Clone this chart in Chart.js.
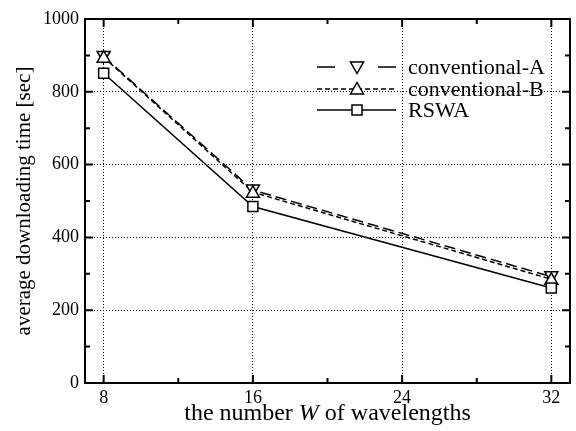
<!DOCTYPE html>
<html>
<head>
<meta charset="utf-8">
<script src="https://cdn.jsdelivr.net/npm/chart.js@4/dist/chart.umd.min.js"></script>
<style>
  html, body { margin: 0; padding: 0; background: #fff; }
  #wrap { width: 576px; height: 431px; }
</style>
</head>
<body>
<div id="wrap"><canvas id="grafico"></canvas></div>
<script>
const wavelengths = [8, 16, 32];
const convA = [897, 530, 292];
const convB = [895, 524, 285];
const rswa = [851, 485, 261];
const xTicks = [8, 16, 24, 32];
const xMinor = [12, 20, 28];
const yTicks = [0, 200, 400, 600, 800, 1000];
const yMinor = [100, 300, 500, 700, 900];
const seriesNames = ["conventional-A", "conventional-B", "RSWA"];

const SERIF = "'Liberation Serif', 'Times New Roman', serif";

function pts(vals) {
  return wavelengths.map((w, i) => ({ x: w, y: vals[i] }));
}

function drawMarker(ctx, style, x, y) {
  ctx.save();
  ctx.setLineDash([]);
  ctx.lineWidth = 1.5;
  ctx.strokeStyle = "#000";
  ctx.fillStyle = "#fff";
  ctx.beginPath();
  if (style === "down") {
    ctx.moveTo(x - 6.5, y - 5);
    ctx.lineTo(x + 6.5, y - 5);
    ctx.lineTo(x, y + 6.5);
    ctx.closePath();
  } else if (style === "up") {
    ctx.moveTo(x - 6.5, y + 5);
    ctx.lineTo(x + 6.5, y + 5);
    ctx.lineTo(x, y - 6.5);
    ctx.closePath();
  } else {
    ctx.rect(x - 5, y - 5, 10, 10);
  }
  ctx.fill();
  ctx.stroke();
  ctx.restore();
}

const framePlugin = {
  id: "frame",
  afterDraw(chart) {
    const ctx = chart.ctx;
    const a = chart.chartArea;
    const xs = chart.scales.x, ys = chart.scales.y;
    ctx.save();
    ctx.strokeStyle = "#000";
    ctx.lineWidth = 2;
    ctx.strokeRect(a.left, a.top, a.right - a.left, a.bottom - a.top);
    ctx.beginPath();
    xTicks.forEach(v => {
      const px = xs.getPixelForValue(v);
      ctx.moveTo(px, a.bottom); ctx.lineTo(px, a.bottom - 8);
      ctx.moveTo(px, a.top); ctx.lineTo(px, a.top + 8);
    });
    xMinor.forEach(v => {
      const px = xs.getPixelForValue(v);
      ctx.moveTo(px, a.bottom); ctx.lineTo(px, a.bottom - 5);
      ctx.moveTo(px, a.top); ctx.lineTo(px, a.top + 5);
    });
    yTicks.forEach(v => {
      const py = ys.getPixelForValue(v);
      ctx.moveTo(a.left, py); ctx.lineTo(a.left + 8, py);
      ctx.moveTo(a.right, py); ctx.lineTo(a.right - 8, py);
    });
    yMinor.forEach(v => {
      const py = ys.getPixelForValue(v);
      ctx.moveTo(a.left, py); ctx.lineTo(a.left + 5, py);
      ctx.moveTo(a.right, py); ctx.lineTo(a.right - 5, py);
    });
    ctx.stroke();

    // x title with italic W
    const cx = (a.left + a.right) / 2;
    const ty = 414;
    const p1 = "the number ", p2 = "W", p3 = " of wavelengths";
    ctx.fillStyle = "#000";
    ctx.textBaseline = "middle";
    ctx.font = "24px " + SERIF;
    const w1 = ctx.measureText(p1).width, w3 = ctx.measureText(p3).width;
    ctx.font = "italic 24px " + SERIF;
    const w2 = ctx.measureText(p2).width;
    const x0 = cx - (w1 + w2 + w3) / 2;
    ctx.textAlign = "left";
    ctx.font = "24px " + SERIF;
    ctx.fillText(p1, x0, ty);
    ctx.font = "italic 24px " + SERIF;
    ctx.fillText(p2, x0 + w1, ty);
    ctx.font = "24px " + SERIF;
    ctx.fillText(p3, x0 + w1 + w2, ty);

    // legend
    const rows = [
      { y: 67, dash: [18, 43], style: "down" },
      { y: 89, dash: [5, 3], style: "up" },
      { y: 110, dash: [], style: "rect" }
    ];
    ctx.font = "22px " + SERIF;
    rows.forEach((r, i) => {
      ctx.save();
      ctx.lineWidth = 1.5;
      ctx.setLineDash(r.dash);
      ctx.beginPath();
      ctx.moveTo(317, r.y); ctx.lineTo(396, r.y);
      ctx.stroke();
      ctx.restore();
      drawMarker(ctx, r.style, 357, r.y);
      ctx.fillStyle = "#000";
      ctx.textAlign = "left";
      ctx.fillText(seriesNames[i], 408, r.y + 1);
    });
    ctx.restore();
  }
};

const markerPlugin = {
  id: "markers",
  afterDatasetsDraw(chart) {
    const styles = ["down", "up", "rect"];
    chart.data.datasets.forEach((ds, i) => {
      chart.getDatasetMeta(i).data.forEach(pt => drawMarker(chart.ctx, styles[i], pt.x, pt.y));
    });
  }
};

const ctx = document.getElementById("grafico").getContext("2d");
new Chart(ctx, {
  type: "line",
  data: {
    datasets: [
      { label: seriesNames[0], data: pts(convA), borderColor: "#000", borderWidth: 1.5, borderDash: [11, 5], pointRadius: 0 },
      { label: seriesNames[1], data: pts(convB), borderColor: "#000", borderWidth: 1.5, borderDash: [5, 3], pointRadius: 0 },
      { label: seriesNames[2], data: pts(rswa), borderColor: "#000", borderWidth: 1.5, pointRadius: 0 }
    ]
  },
  options: {
    responsive: true,
    maintainAspectRatio: false,
    animation: false,
    layout: { padding: { top: 19, right: 6, left: 0, bottom: 0 } },
    plugins: { legend: { display: false }, tooltip: { enabled: false } },
    scales: {
      x: {
        type: "linear",
        min: 7,
        max: 33,
        afterBuildTicks: s => { s.ticks = xTicks.map(v => ({ value: v })); },
        afterFit: s => { s.height = 48; },
        grid: { color: "#000", lineWidth: 1, drawTicks: false },
        border: { display: false, dash: [1, 2] },
        ticks: { color: "#000", font: { family: SERIF, size: 18 }, padding: 4, callback: v => String(v) }
      },
      y: {
        min: 0,
        max: 1000,
        afterBuildTicks: s => { s.ticks = yTicks.map(v => ({ value: v })); },
        afterFit: s => { s.width = 85; },
        grid: { color: "#000", lineWidth: 1, drawTicks: false },
        border: { display: false, dash: [1, 2] },
        ticks: { color: "#000", font: { family: SERIF, size: 18 }, padding: 6, callback: v => String(v) },
        title: { display: true, text: "average downloading time [sec]", color: "#000", font: { family: SERIF, size: 21 }, padding: { top: 12, bottom: 0 } }
      }
    }
  },
  plugins: [markerPlugin, framePlugin]
});
</script>
</body>
</html>
